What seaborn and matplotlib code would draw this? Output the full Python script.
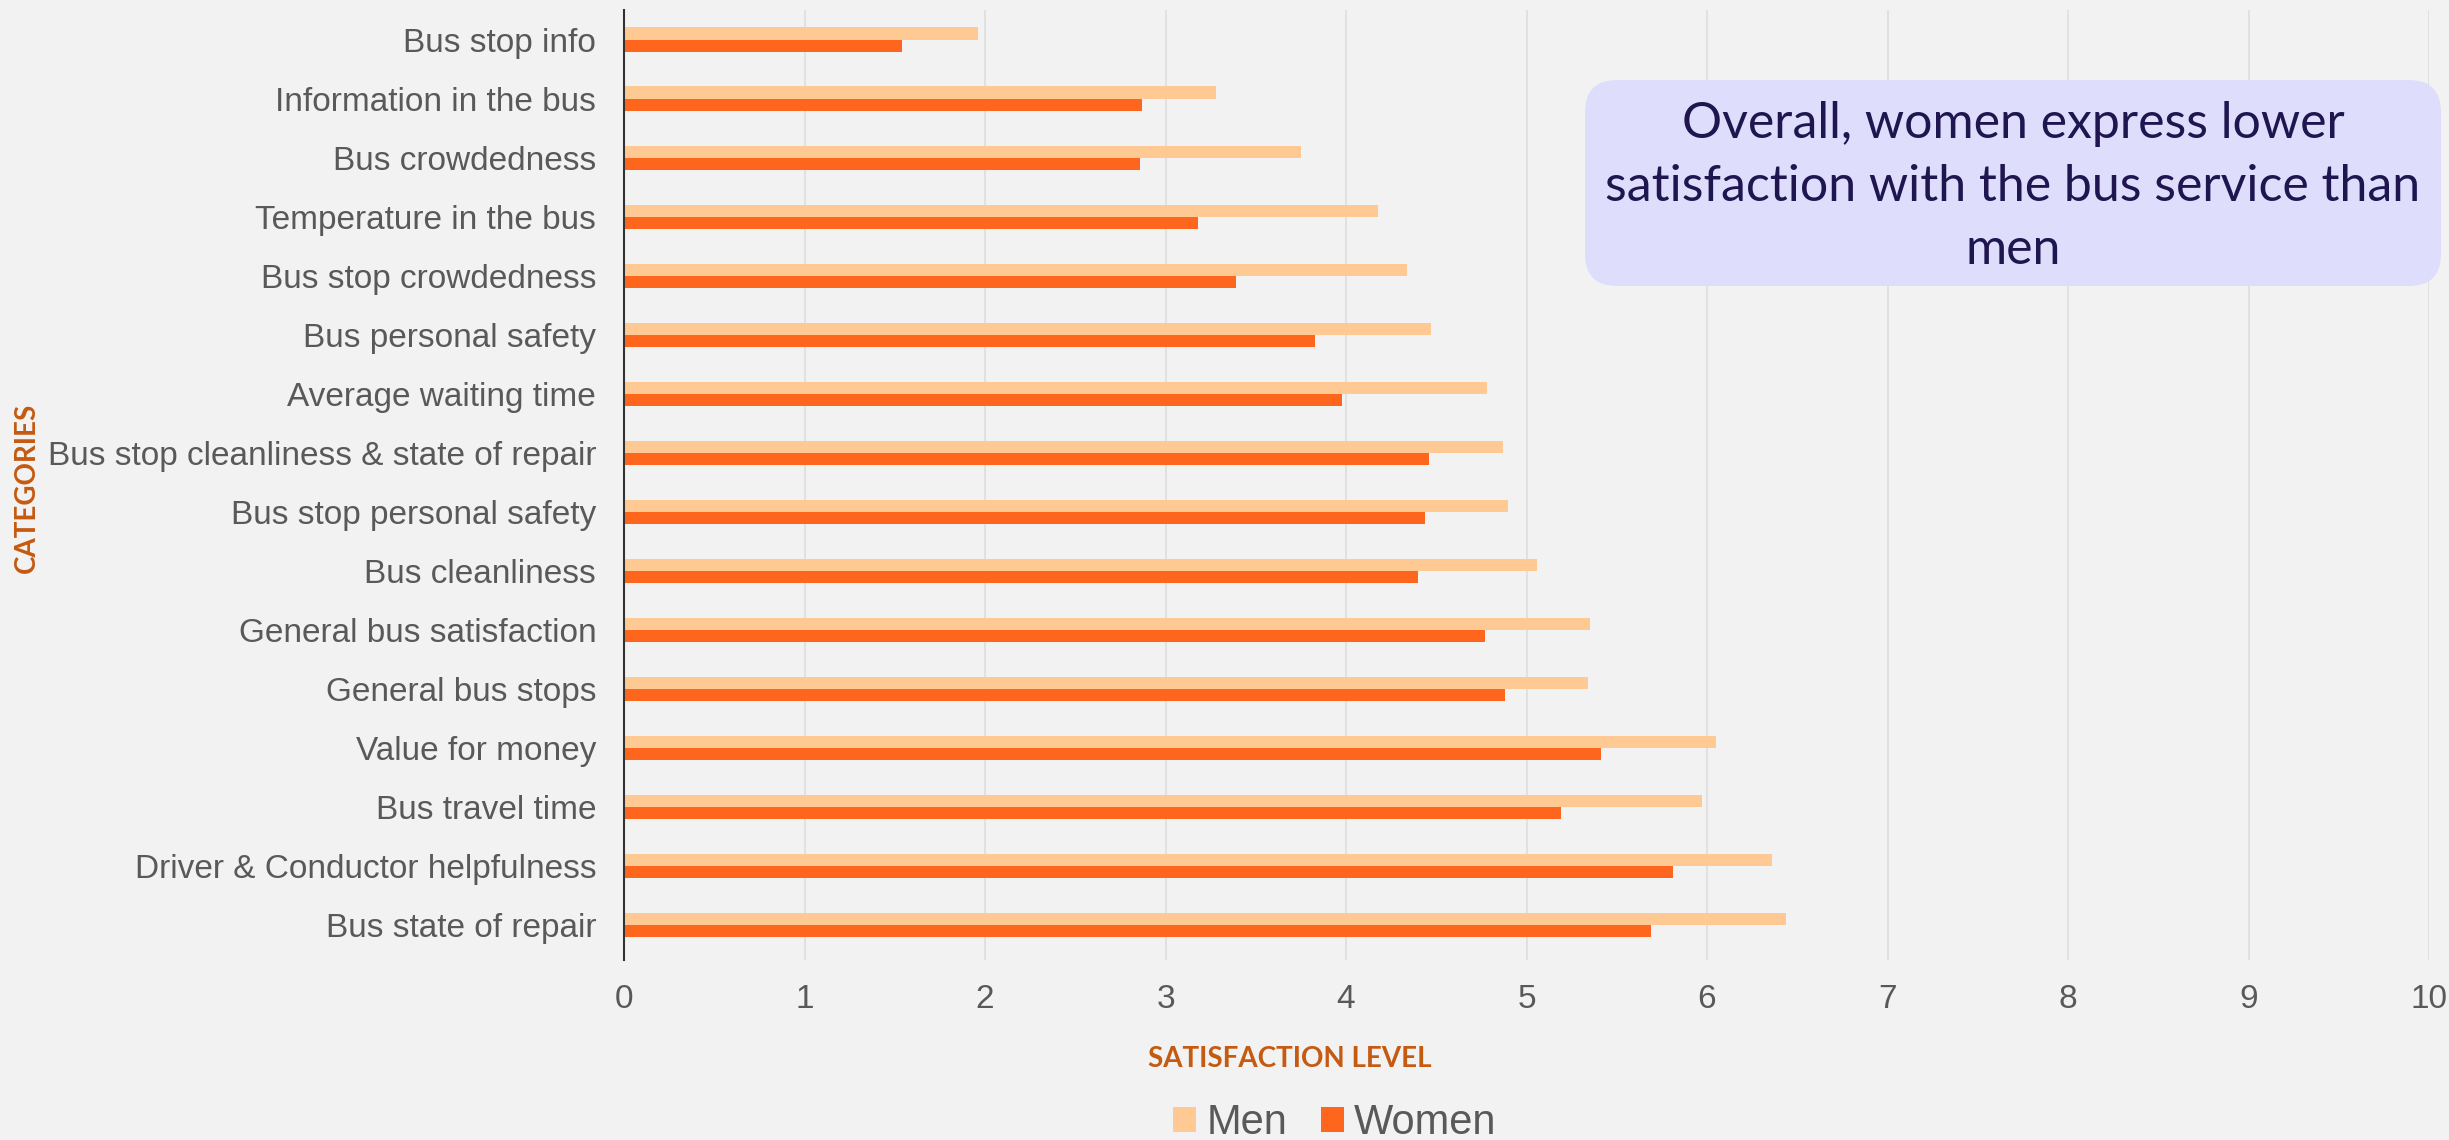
import matplotlib
matplotlib.use("Agg")
import matplotlib.pyplot as plt
from matplotlib.patches import FancyBboxPatch, Patch
from matplotlib.transforms import IdentityTransform
import seaborn as sns
import pandas as pd

categories = [
    "Bus stop info",
    "Information in the bus",
    "Bus crowdedness",
    "Temperature in the bus",
    "Bus stop crowdedness",
    "Bus personal safety",
    "Average waiting time",
    "Bus stop cleanliness & state of repair",
    "Bus stop personal safety",
    "Bus cleanliness",
    "General bus satisfaction",
    "General bus stops",
    "Value for money",
    "Bus travel time",
    "Driver & Conductor helpfulness",
    "Bus state of repair",
]
men = [1.96, 3.28, 3.75, 4.18, 4.34, 4.47, 4.78, 4.87, 4.90, 5.06, 5.35, 5.34, 6.05, 5.97, 6.36, 6.44]
women = [1.54, 2.87, 2.86, 3.18, 3.39, 3.83, 3.98, 4.46, 4.44, 4.40, 4.77, 4.88, 5.41, 5.19, 5.81, 5.69]
series_names = ["Men", "Women"]
x_ticks = list(range(0, 11))

df = pd.DataFrame({
    "Category": categories * 2,
    "Satisfaction": men + women,
    "Gender": [series_names[0]] * len(categories) + [series_names[1]] * len(categories),
})

sns.set_theme(style="white")
plt.rcParams["font.family"] = ["Liberation Sans", "DejaVu Sans"]

BG = "#F2F2F2"
MEN_C = "#FFC994"
WOMEN_C = "#FF661D"
TXT = "#595959"
ORANGE = "#C55A11"

W, H = 2449, 1140
fig = plt.figure(figsize=(W / 100, H / 100), dpi=100, facecolor=BG)
ax = fig.add_axes([624 / W, 1 - 960 / H, (2429 - 624) / W, (960 - 10) / H])
ax.set_facecolor(BG)

sns.barplot(data=df, y="Category", x="Satisfaction", hue="Gender",
            hue_order=series_names, order=categories,
            palette=[MEN_C, WOMEN_C], width=0.41, linewidth=0, saturation=1,
            orient="h", ax=ax, legend=False, errorbar=None)

ax.set_xlim(0, 10)
ax.set_ylim(15.59, -0.5)
ax.set_xticks(x_ticks)
ax.set_xticklabels([str(t) for t in x_ticks])
ax.xaxis.grid(True, color="#DCDCDC", linewidth=1.1)
ax.yaxis.grid(False)
ax.set_axisbelow(True)
for s in ["top", "right", "bottom"]:
    ax.spines[s].set_visible(False)
ax.spines["left"].set_color("#333333")
ax.spines["left"].set_linewidth(1.5)
ax.tick_params(axis="x", length=0, pad=17, labelsize=24, labelcolor=TXT)
ax.tick_params(axis="y", length=0, pad=20, labelsize=24, labelcolor=TXT)
ax.set_xlabel("")
ax.set_ylabel("")

fig.text(27 / W, 1 - 488 / H, "CATEGORIES", rotation=90, ha="center", va="center",
         color=ORANGE, fontsize=20, fontweight="bold", family=["Lato", "DejaVu Sans"])
fig.text(1290 / W, 1 - 1059 / H, "SATISFACTION LEVEL", ha="center", va="center",
         color=ORANGE, fontsize=20, fontweight="bold", family=["Lato", "DejaVu Sans"])

handles = [Patch(facecolor=MEN_C, edgecolor="none"), Patch(facecolor=WOMEN_C, edgecolor="none")]
leg = fig.legend(handles, series_names, loc="center", bbox_to_anchor=(1335 / W, 1 - 1123 / H),
                 ncol=2, frameon=False, fontsize=30, handlelength=0.55, handleheight=0.55,
                 handletextpad=0.25, columnspacing=0.8, labelcolor=TXT)

box = FancyBboxPatch((1585, H - 286), 856, 206, boxstyle="round,pad=0,rounding_size=32",
                     transform=IdentityTransform(), facecolor="#DEDEFC", edgecolor="none",
                     zorder=5)
fig.patches.append(box)
fig.text(2013 / W, 1 - 187 / H,
         "Overall, women express lower\nsatisfaction with the bus service than\nmen",
         ha="center", va="center", color="#1F1650", fontsize=36, linespacing=1.45,
         family=["Lato", "DejaVu Sans"], zorder=6)

fig.savefig("out.png", dpi=100, facecolor=BG)
